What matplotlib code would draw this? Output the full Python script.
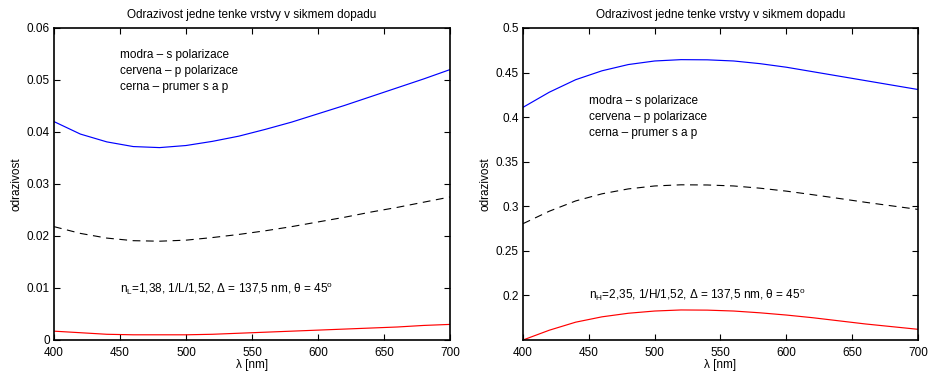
import matplotlib.pyplot as plt

plt.rcParams['font.family'] = ['Liberation Sans', 'DejaVu Sans']
plt.rcParams['mathtext.fontset'] = 'custom'
plt.rcParams['mathtext.rm'] = 'Liberation Sans'

wavelength = [400, 420, 440, 460, 480, 500, 520, 540, 560, 580, 600, 620,
              640, 660, 680, 700]

# vrstva L (n = 1,38)
left_s = [0.0420, 0.0396, 0.0381, 0.0372, 0.0370, 0.0374, 0.0382, 0.0392,
          0.0405, 0.0419, 0.0435, 0.0451, 0.0468, 0.0485, 0.0502, 0.0520]
left_p = [0.0017, 0.0014, 0.0011, 0.0010, 0.0010, 0.0010, 0.0011, 0.0013,
          0.0015, 0.0017, 0.0019, 0.0021, 0.0023, 0.0025, 0.0028, 0.0030]
left_avg = [0.0218, 0.0205, 0.0196, 0.0191, 0.0190, 0.0192, 0.0197, 0.0203,
            0.0210, 0.0218, 0.0227, 0.0236, 0.0246, 0.0255, 0.0265, 0.0275]

# vrstva H (n = 2,35)
right_s = [0.411, 0.428, 0.442, 0.452, 0.459, 0.463, 0.4645, 0.4643,
           0.463, 0.460, 0.456, 0.451, 0.446, 0.441, 0.436, 0.431]
right_p = [0.150, 0.161, 0.170, 0.176, 0.180, 0.1825, 0.1837, 0.1835,
           0.1825, 0.1805, 0.178, 0.175, 0.1715, 0.168, 0.165, 0.162]
right_avg = [0.2805, 0.2945, 0.306, 0.314, 0.3195, 0.3228, 0.3241, 0.3239,
             0.3228, 0.3203, 0.317, 0.313, 0.3088, 0.3045, 0.3005, 0.2965]

title = 'Odrazivost jedne tenke vrstvy v sikmem dopadu'
legend_lines = ['modra \u2013 s polarizace', 'cervena \u2013 p polarizace',
                'cerna \u2013 prumer s a p']

fig = plt.figure(figsize=(9.31, 3.73), dpi=100)
ax1 = fig.add_axes([54 / 931, 33 / 373, 396 / 931, 312 / 373])
ax2 = fig.add_axes([523 / 931, 33 / 373, 395 / 931, 312 / 373])


def draw(ax, s, p, avg, ylim, yticks, ylabels, text_y, note, note_y):
    ax.plot(wavelength, s, color='#0000ff', lw=0.85)
    ax.plot(wavelength, p, color='#ff0000', lw=0.85)
    ax.plot(wavelength, avg, color='black', lw=0.8, dashes=(7, 5))
    ax.set_xlim(400, 700)
    ax.set_ylim(*ylim)
    ax.set_xticks(range(400, 701, 50))
    ax.set_yticks(yticks)
    ax.set_yticklabels(ylabels)
    ax.tick_params(direction='in', top=True, right=True, labelsize=8.5,
                   length=4, width=0.8, pad=3)
    ax.tick_params(axis='x', pad=5)
    for sp in ax.spines.values():
        sp.set_linewidth(1.2)
    ax.set_title(title, fontsize=8.5, pad=7)
    ax.set_xlabel('\u03bb [nm]', fontsize=8.5, labelpad=0)
    ax.set_ylabel('odrazivost', fontsize=8.5, labelpad=3)
    for txt, ty in zip(legend_lines, text_y):
        ax.text(450, ty, txt, fontsize=8.5, va='center')
    ax.text(450, note_y, note, fontsize=8.5, va='center')


draw(ax1, left_s, left_p, left_avg, (0, 0.06),
     [0, 0.01, 0.02, 0.03, 0.04, 0.05, 0.06],
     ['0', '0.01', '0.02', '0.03', '0.04', '0.05', '0.06'],
     [0.0548, 0.0517, 0.0487],
     'n$_\\mathregular{L}$=1,38, 1/L/1,52, \u0394 = 137,5 nm, \u03b8 = 45$^\\mathregular{o}$',
     0.0098)
draw(ax2, right_s, right_p, right_avg, (0.15, 0.5),
     [0.2, 0.25, 0.3, 0.35, 0.4, 0.45, 0.5],
     ['0.2', '0.25', '0.3', '0.35', '0.4', '0.45', '0.5'],
     [0.418, 0.400, 0.382],
     'n$_\\mathregular{H}$=2,35, 1/H/1,52, \u0394 = 137,5 nm, \u03b8 = 45$^\\mathregular{o}$',
     0.2005)

fig.savefig('out.png', dpi=100)
